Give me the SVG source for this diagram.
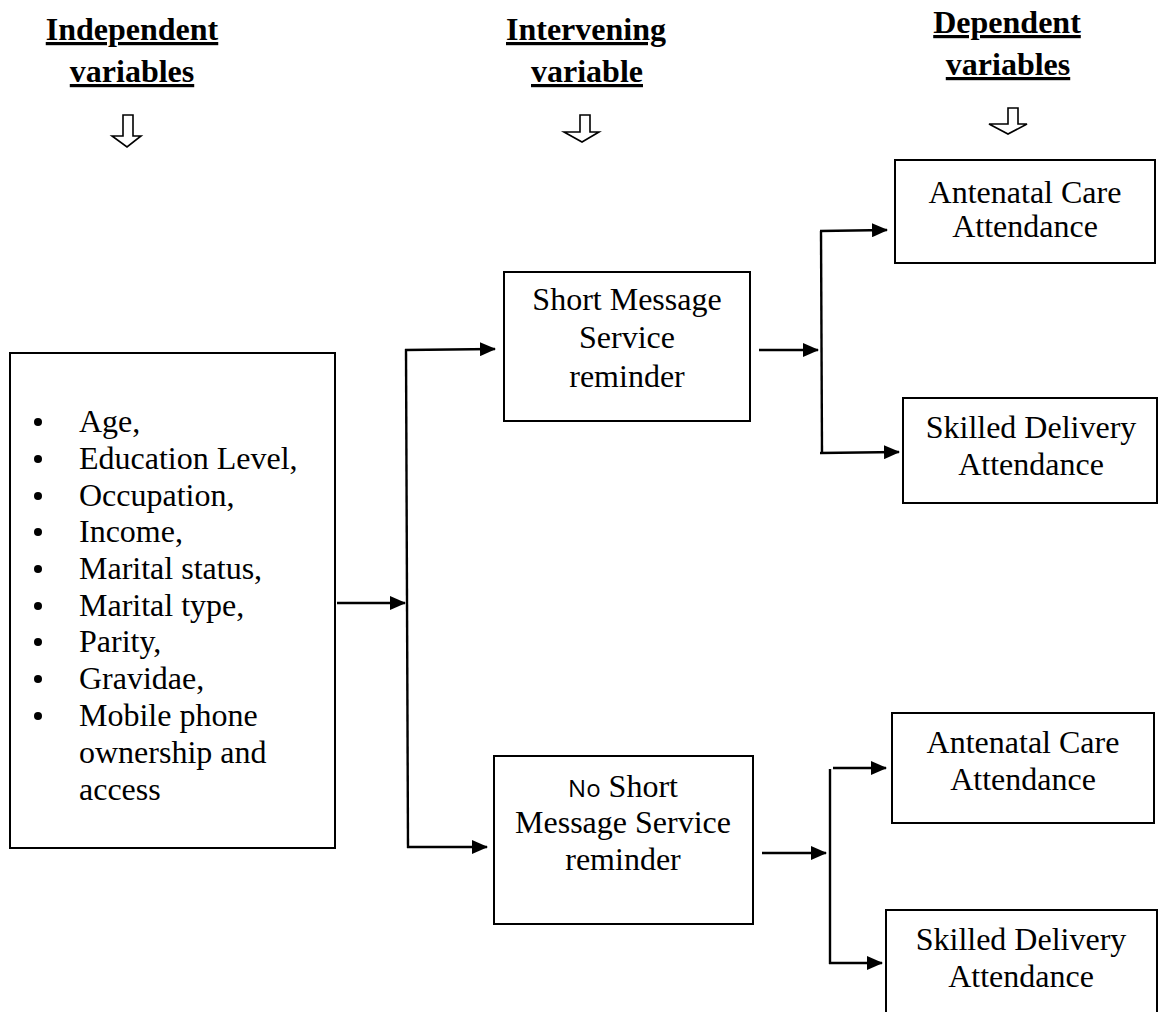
<svg xmlns="http://www.w3.org/2000/svg" width="1160" height="1012" viewBox="0 0 1160 1012">
<style>
.hd{font-family:"Liberation Serif","Times New Roman",serif;font-size:32px;font-weight:bold;text-decoration:underline;fill:#000;text-anchor:middle}
.t{font-family:"Liberation Serif","Times New Roman",serif;font-size:32px;fill:#000}
.c{text-anchor:middle}
.box{fill:#fff;stroke:#000;stroke-width:2}
.ln{fill:none;stroke:#000;stroke-width:2.4}
.ha{fill:#fff;stroke:#000;stroke-width:1.6}
.sans{font-family:"Open Sans","Noto Sans",sans-serif;font-size:24px}
</style>
<defs>
<marker id="ah" markerWidth="16" markerHeight="14" refX="15" refY="7" orient="auto" markerUnits="userSpaceOnUse">
<path d="M0,0 L16,7 L0,14 Z" fill="#000"/>
</marker>
</defs>
<rect width="1160" height="1012" fill="#fff"/>
<g id="header-independent">
<text class="hd" x="132" y="40">Independent</text>
<text class="hd" x="132" y="82">variables</text>
<polygon class="ha" points="123,115 133,115 133,136 141,136 127,147 112,136 123,136"/>
</g>
<g id="header-intervening">
<text class="hd" x="586" y="40">Intervening</text>
<text class="hd" x="587" y="82">variable</text>
<polygon class="ha" points="580,115 590,115 590,132 599,132 582,142 564,132 580,132"/>
</g>
<g id="header-dependent">
<text class="hd" x="1007" y="33">Dependent</text>
<text class="hd" x="1008" y="75">variables</text>
<polygon class="ha" points="1008,108 1018,108 1018,124 1027,124 1008,134 989,124 1008,124"/>
</g>
<g id="independent-box">
<rect class="box" x="10" y="353" width="325" height="495"/>
<g fill="#000">
<circle cx="38" cy="422" r="4"/>
<circle cx="38" cy="459" r="4"/>
<circle cx="38" cy="496" r="4"/>
<circle cx="38" cy="532" r="4"/>
<circle cx="38" cy="569" r="4"/>
<circle cx="38" cy="606" r="4"/>
<circle cx="38" cy="642" r="4"/>
<circle cx="38" cy="679" r="4"/>
<circle cx="38" cy="716" r="4"/>
</g>
<text class="t" x="79" y="432">Age,</text>
<text class="t" x="79" y="469">Education Level,</text>
<text class="t" x="79" y="506">Occupation,</text>
<text class="t" x="79" y="542">Income,</text>
<text class="t" x="79" y="579">Marital status,</text>
<text class="t" x="79" y="616">Marital type,</text>
<text class="t" x="79" y="652">Parity,</text>
<text class="t" x="79" y="689">Gravidae,</text>
<text class="t" x="79" y="726">Mobile phone</text>
<text class="t" x="79" y="763">ownership and</text>
<text class="t" x="79" y="800">access</text>
</g>
<g id="sms">
<rect class="box" x="504" y="272" width="246" height="149"/>
<text class="t c" x="627" y="310">Short Message</text>
<text class="t c" x="627" y="348">Service</text>
<text class="t c" x="627" y="387">reminder</text>
</g>
<g id="no-sms">
<rect class="box" x="494" y="756" width="259" height="168"/>
<text class="t c" x="623" y="797"><tspan class="sans">No</tspan> Short</text>
<text class="t c" x="623" y="833">Message Service</text>
<text class="t c" x="623" y="870">reminder</text>
</g>
<g id="sms-anc">
<rect class="box" x="895" y="160" width="260" height="103"/>
<text class="t c" x="1025" y="203">Antenatal Care</text>
<text class="t c" x="1025" y="237">Attendance</text>
</g>
<g id="sms-sda">
<rect class="box" x="903" y="398" width="254" height="105"/>
<text class="t c" x="1031" y="438">Skilled Delivery</text>
<text class="t c" x="1031" y="475">Attendance</text>
</g>
<g id="nosms-anc">
<rect class="box" x="892" y="713" width="262" height="110"/>
<text class="t c" x="1023" y="753">Antenatal Care</text>
<text class="t c" x="1023" y="790">Attendance</text>
</g>
<g id="nosms-sda">
<rect class="box" x="886" y="910" width="271" height="110"/>
<text class="t c" x="1021" y="950">Skilled Delivery</text>
<text class="t c" x="1021" y="987">Attendance</text>
</g>
<g id="connectors">
<line class="ln" x1="337" y1="603" x2="405" y2="603" marker-end="url(#ah)"/>
<line class="ln" x1="406" y1="349" x2="408" y2="848"/>
<line class="ln" x1="405" y1="350" x2="495" y2="349" marker-end="url(#ah)"/>
<line class="ln" x1="407" y1="847" x2="487" y2="847" marker-end="url(#ah)"/>
<line class="ln" x1="759" y1="350" x2="818" y2="350" marker-end="url(#ah)"/>
<line class="ln" x1="821" y1="231" x2="822" y2="453"/>
<line class="ln" x1="820" y1="231" x2="887" y2="230" marker-end="url(#ah)"/>
<line class="ln" x1="820" y1="453" x2="899" y2="452" marker-end="url(#ah)"/>
<line class="ln" x1="762" y1="853" x2="826" y2="853" marker-end="url(#ah)"/>
<line class="ln" x1="830" y1="769" x2="830" y2="964"/>
<line class="ln" x1="833" y1="768" x2="886" y2="768" marker-end="url(#ah)"/>
<line class="ln" x1="829" y1="963" x2="882" y2="963" marker-end="url(#ah)"/>
</g>
</svg>
